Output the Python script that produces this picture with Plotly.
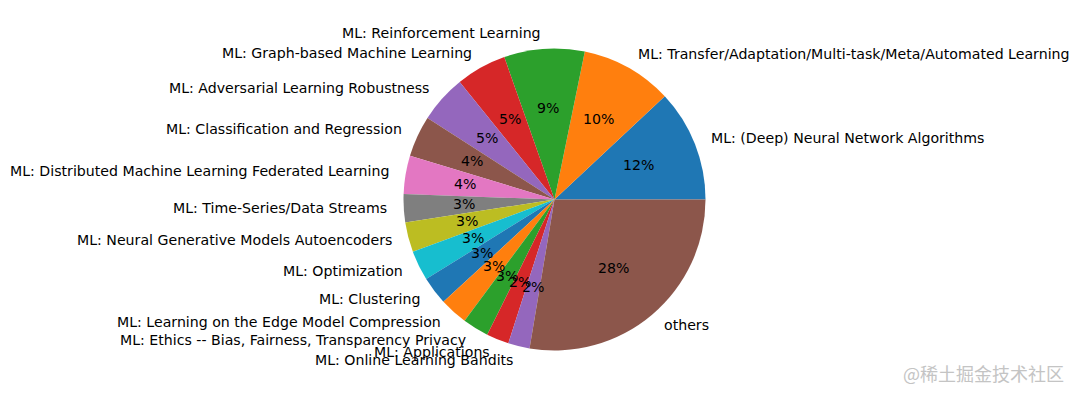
import math
import plotly.graph_objects as go

# ---------------- data ----------------
labels = [
    "ML: (Deep) Neural Network Algorithms",
    "ML: Transfer/Adaptation/Multi-task/Meta/Automated Learning",
    "ML: Reinforcement Learning",
    "ML: Graph-based Machine Learning",
    "ML: Adversarial Learning Robustness",
    "ML: Classification and Regression",
    "ML: Distributed Machine Learning Federated Learning",
    "ML: Time-Series/Data Streams",
    "ML: Neural Generative Models Autoencoders",
    "ML: Optimization",
    "ML: Clustering",
    "ML: Learning on the Edge Model Compression",
    "ML: Ethics -- Bias, Fairness, Transparency Privacy",
    "ML: Applications",
    "ML: Online Learning Bandits",
    "others",
]
values = [11.95, 9.8, 8.6, 5.4, 5.1, 4.4, 4.1, 3.0, 3.2, 3.2, 3.0, 3.0, 2.8, 2.4, 2.3, 27.6]
watermark = "@稀土掘金技术社区"

# ---------------- style ----------------
tab10 = ["#1f77b4", "#ff7f0e", "#2ca02c", "#d62728", "#9467bd",
         "#8c564b", "#e377c2", "#7f7f7f", "#bcbd22", "#17becf"]
colors = [tab10[i % len(tab10)] for i in range(len(values))]

W, H = 1080, 398
CX, CY, R = 554.5, 199.5, 151.0
FONT = "DejaVu Sans"
FS = 14.15

total = sum(values)
# plotly (counterclockwise) places the first slice clockwise of `rotation`,
# so shift by the first slice's angle to start it at 3 o'clock going up.
first_angle = 360.0 * values[0] / total

fig = go.Figure(go.Pie(
    labels=labels,
    values=values,
    sort=False,
    direction="counterclockwise",
    rotation=90 - first_angle,
    marker=dict(colors=colors, line=dict(width=0)),
    textinfo="none",
    showlegend=False,
    domain=dict(x=[(CX - R) / W, (CX + R) / W],
                y=[1 - (CY + R) / H, 1 - (CY - R) / H]),
))

annotations = []
start = 0.0
for lab, v in zip(labels, values):
    span = 360.0 * v / total
    mid = math.radians(start + span / 2)
    start += span
    c, s = math.cos(mid), math.sin(mid)
    # percentage text at 0.6 R
    px = CX + 0.6 * R * c
    py = CY - 0.6 * R * s - 1
    annotations.append(dict(
        x=px / W, y=1 - py / H, xref="paper", yref="paper",
        text=f"{round(100 * v / total):.0f}%", showarrow=False,
        xanchor="center", yanchor="middle",
        font=dict(family=FONT, size=FS, color="black")))
    # label at 1.1 R
    lx = CX + 1.1 * R * c
    ly = CY - 1.1 * R * s - 1
    annotations.append(dict(
        x=lx / W, y=1 - ly / H, xref="paper", yref="paper",
        text=lab, showarrow=False,
        xanchor="left" if c > 0 else "right", yanchor="middle",
        font=dict(family=FONT, size=FS, color="black")))

annotations.append(dict(
    x=1066 / W, y=1 - 373 / H, xref="paper", yref="paper",
    text=watermark, showarrow=False, xanchor="right", yanchor="middle",
    font=dict(family="Noto Sans CJK SC", size=18, color="#c4c4c4")))

fig.update_layout(
    width=W, height=H,
    margin=dict(l=0, r=0, t=0, b=0),
    paper_bgcolor="white", plot_bgcolor="white",
    annotations=annotations,
)

fig.write_html("out.html", config={"displayModeBar": False},
               post_script="document.body.style.margin='0';")
